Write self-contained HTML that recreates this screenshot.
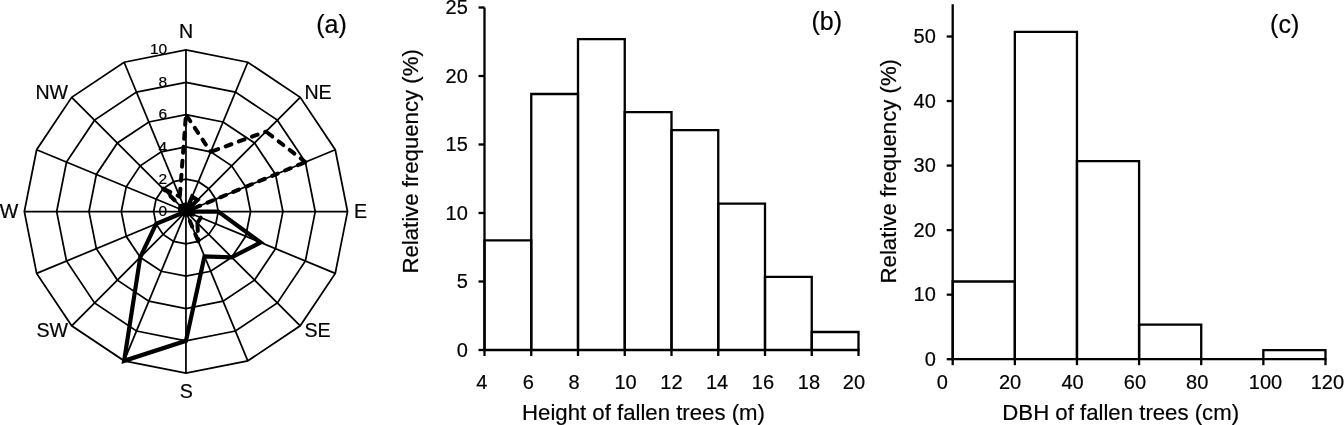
<!DOCTYPE html>
<html><head><meta charset="utf-8"><title>Fallen trees figure</title>
<style>
html,body{margin:0;padding:0;background:#fff;}
body{width:1344px;height:425px;overflow:hidden;}
svg{display:block;}
text{font-family:"Liberation Sans", Arial, sans-serif;fill:#000;stroke:#000;stroke-width:0.2px;}
line,path{stroke:#000;}
</style></head><body>
<svg width="1344" height="425" viewBox="0 0 1344 425">
<rect width="1344" height="425" fill="#fff"/>
<polygon points="185.95,179.23 198.32,181.69 208.80,188.70 215.81,199.18 218.27,211.55 215.81,223.92 208.80,234.40 198.32,241.41 185.95,243.87 173.58,241.41 163.10,234.40 156.09,223.92 153.63,211.55 156.09,199.18 163.10,188.70 173.58,181.69" fill="none" stroke="#000" stroke-width="1.75"/>
<polygon points="185.95,146.91 210.69,151.83 231.66,165.84 245.67,186.81 250.59,211.55 245.67,236.29 231.66,257.26 210.69,271.27 185.95,276.19 161.21,271.27 140.24,257.26 126.23,236.29 121.31,211.55 126.23,186.81 140.24,165.84 161.21,151.83" fill="none" stroke="#000" stroke-width="1.75"/>
<polygon points="185.95,114.59 223.05,121.97 254.51,142.99 275.53,174.45 282.91,211.55 275.53,248.65 254.51,280.11 223.05,301.13 185.95,308.51 148.85,301.13 117.39,280.11 96.37,248.65 88.99,211.55 96.37,174.45 117.39,142.99 148.85,121.97" fill="none" stroke="#000" stroke-width="1.75"/>
<polygon points="185.95,82.27 235.42,92.11 277.36,120.14 305.39,162.08 315.23,211.55 305.39,261.02 277.36,302.96 235.42,330.99 185.95,340.83 136.48,330.99 94.54,302.96 66.51,261.02 56.67,211.55 66.51,162.08 94.54,120.14 136.48,92.11" fill="none" stroke="#000" stroke-width="1.75"/>
<polygon points="185.95,49.95 247.79,62.25 300.22,97.28 335.25,149.71 347.55,211.55 335.25,273.39 300.22,325.82 247.79,360.85 185.95,373.15 124.11,360.85 71.68,325.82 36.65,273.39 24.35,211.55 36.65,149.71 71.68,97.28 124.11,62.25" fill="none" stroke="#000" stroke-width="1.75"/>
<line x1="185.95" y1="211.55" x2="185.95" y2="49.95" stroke-width="1.75"/>
<line x1="185.95" y1="211.55" x2="247.79" y2="62.25" stroke-width="1.75"/>
<line x1="185.95" y1="211.55" x2="300.22" y2="97.28" stroke-width="1.75"/>
<line x1="185.95" y1="211.55" x2="335.25" y2="149.71" stroke-width="1.75"/>
<line x1="185.95" y1="211.55" x2="347.55" y2="211.55" stroke-width="1.75"/>
<line x1="185.95" y1="211.55" x2="335.25" y2="273.39" stroke-width="1.75"/>
<line x1="185.95" y1="211.55" x2="300.22" y2="325.82" stroke-width="1.75"/>
<line x1="185.95" y1="211.55" x2="247.79" y2="360.85" stroke-width="1.75"/>
<line x1="185.95" y1="211.55" x2="185.95" y2="373.15" stroke-width="1.75"/>
<line x1="185.95" y1="211.55" x2="124.11" y2="360.85" stroke-width="1.75"/>
<line x1="185.95" y1="211.55" x2="71.68" y2="325.82" stroke-width="1.75"/>
<line x1="185.95" y1="211.55" x2="36.65" y2="273.39" stroke-width="1.75"/>
<line x1="185.95" y1="211.55" x2="24.35" y2="211.55" stroke-width="1.75"/>
<line x1="185.95" y1="211.55" x2="36.65" y2="149.71" stroke-width="1.75"/>
<line x1="185.95" y1="211.55" x2="71.68" y2="97.28" stroke-width="1.75"/>
<line x1="185.95" y1="211.55" x2="124.11" y2="62.25" stroke-width="1.75"/>
<polygon points="185.95,211.55 192.13,196.62 197.38,200.12 185.95,211.55 218.27,211.55 260.60,242.47 231.66,257.26 204.50,256.34 185.95,340.83 124.11,360.85 140.24,257.26 156.09,223.92 185.95,211.55 185.95,211.55 185.95,211.55 185.95,211.55" fill="none" stroke="#000" stroke-width="4.2" stroke-linejoin="miter"/>
<path d="M185.95,114.59L210.69,151.83" fill="none" stroke="#000" stroke-width="4.0" stroke-dasharray="6.00 8.00" stroke-dashoffset="-2.00" stroke-linecap="round"/>
<path d="M210.69,151.83L265.94,131.56" fill="none" stroke="#000" stroke-width="4.0" stroke-dasharray="6.00 8.00" stroke-dashoffset="-2.00" stroke-linecap="round"/>
<path d="M265.94,131.56L305.39,162.08" fill="none" stroke="#000" stroke-width="4.0" stroke-dasharray="6.00 8.00" stroke-dashoffset="-2.00" stroke-linecap="round"/>
<path d="M305.39,162.08L185.95,211.55" fill="none" stroke="#000" stroke-width="4.0" stroke-dasharray="6.00 8.00" stroke-dashoffset="-2.00" stroke-linecap="round"/>
<path d="M185.95,211.55L200.88,217.73" fill="none" stroke="#000" stroke-width="4.0" stroke-dasharray="6.00 8.00" stroke-dashoffset="-2.00" stroke-linecap="round"/>
<path d="M200.88,217.73L197.38,222.98" fill="none" stroke="#000" stroke-width="4.0" stroke-dasharray="6.00 8.00" stroke-dashoffset="-2.00" stroke-linecap="round"/>
<path d="M197.38,222.98L198.32,241.41" fill="none" stroke="#000" stroke-width="4.0" stroke-dasharray="6.00 8.00" stroke-dashoffset="-2.00" stroke-linecap="round"/>
<path d="M198.32,241.41L185.95,211.55" fill="none" stroke="#000" stroke-width="4.0" stroke-dasharray="6.00 8.00" stroke-dashoffset="-2.00" stroke-linecap="round"/>
<path d="M185.95,211.55L163.10,188.70" fill="none" stroke="#000" stroke-width="4.0" stroke-dasharray="6.00 8.00" stroke-dashoffset="-2.00" stroke-linecap="round"/>
<path d="M163.10,188.70L179.77,196.62" fill="none" stroke="#000" stroke-width="4.0" stroke-dasharray="6.00 8.00" stroke-dashoffset="-2.00" stroke-linecap="round"/>
<path d="M179.77,196.62L185.95,114.59" fill="none" stroke="#000" stroke-width="4.0" stroke-dasharray="6.00 8.00" stroke-dashoffset="-2.00" stroke-linecap="round"/>
<ellipse cx="185.9" cy="209.5" rx="8" ry="7" fill="#000"/>
<text x="167.20" y="216.30" font-size="15.5" text-anchor="end">0</text>
<text x="167.20" y="183.90" font-size="15.5" text-anchor="end">2</text>
<text x="167.20" y="151.50" font-size="15.5" text-anchor="end">4</text>
<text x="167.20" y="119.10" font-size="15.5" text-anchor="end">6</text>
<text x="167.20" y="86.70" font-size="15.5" text-anchor="end">8</text>
<text x="167.20" y="54.30" font-size="15.5" text-anchor="end">10</text>
<text x="186.00" y="38.40" font-size="19.6" text-anchor="middle">N</text>
<text x="318.00" y="98.70" font-size="19.6" text-anchor="middle">NE</text>
<text x="360.50" y="218.00" font-size="19.6" text-anchor="middle">E</text>
<text x="317.50" y="336.80" font-size="19.6" text-anchor="middle">SE</text>
<text x="186.30" y="397.60" font-size="19.6" text-anchor="middle">S</text>
<text x="52.20" y="336.80" font-size="19.6" text-anchor="middle">SW</text>
<text x="9.00" y="218.00" font-size="19.6" text-anchor="middle">W</text>
<text x="51.80" y="98.70" font-size="19.6" text-anchor="middle">NW</text>
<text x="331.50" y="33.20" font-size="25" text-anchor="middle">(a)</text>
<path d="M484.50,350.0 V240.4 H531.25 V350.0" fill="none" stroke-width="2.3"/>
<path d="M531.25,350.0 V94 H578.00 V350.0" fill="none" stroke-width="2.3"/>
<path d="M578.00,350.0 V39.2 H624.75 V350.0" fill="none" stroke-width="2.3"/>
<path d="M624.75,350.0 V112.1 H671.50 V350.0" fill="none" stroke-width="2.3"/>
<path d="M671.50,350.0 V130.2 H718.25 V350.0" fill="none" stroke-width="2.3"/>
<path d="M718.25,350.0 V203.6 H765.00 V350.0" fill="none" stroke-width="2.3"/>
<path d="M765.00,350.0 V276.8 H811.75 V350.0" fill="none" stroke-width="2.3"/>
<path d="M811.75,350.0 V332 H858.50 V350.0" fill="none" stroke-width="2.3"/>
<line x1="484.50" y1="7.50" x2="484.50" y2="351.00" stroke-width="2.3"/>
<line x1="483.50" y1="350.00" x2="859.50" y2="350.00" stroke-width="2.3"/>
<line x1="478.50" y1="350.00" x2="484.50" y2="350.00" stroke-width="2.3"/>
<text x="467.80" y="356.50" font-size="20" text-anchor="end">0</text>
<line x1="478.50" y1="281.50" x2="484.50" y2="281.50" stroke-width="2.3"/>
<text x="467.80" y="288.00" font-size="20" text-anchor="end">5</text>
<line x1="478.50" y1="213.00" x2="484.50" y2="213.00" stroke-width="2.3"/>
<text x="467.80" y="219.50" font-size="20" text-anchor="end">10</text>
<line x1="478.50" y1="144.50" x2="484.50" y2="144.50" stroke-width="2.3"/>
<text x="467.80" y="151.00" font-size="20" text-anchor="end">15</text>
<line x1="478.50" y1="76.00" x2="484.50" y2="76.00" stroke-width="2.3"/>
<text x="467.80" y="82.50" font-size="20" text-anchor="end">20</text>
<line x1="478.50" y1="7.50" x2="484.50" y2="7.50" stroke-width="2.3"/>
<text x="467.80" y="14.00" font-size="20" text-anchor="end">25</text>
<line x1="484.50" y1="350.00" x2="484.50" y2="356.00" stroke-width="2.3"/>
<text x="481.90" y="389.10" font-size="20" text-anchor="middle">4</text>
<line x1="531.25" y1="350.00" x2="531.25" y2="356.00" stroke-width="2.3"/>
<text x="528.20" y="389.10" font-size="20" text-anchor="middle">6</text>
<line x1="578.00" y1="350.00" x2="578.00" y2="356.00" stroke-width="2.3"/>
<text x="574.00" y="389.10" font-size="20" text-anchor="middle">8</text>
<line x1="624.75" y1="350.00" x2="624.75" y2="356.00" stroke-width="2.3"/>
<text x="625.50" y="389.10" font-size="20" text-anchor="middle">10</text>
<line x1="671.50" y1="350.00" x2="671.50" y2="356.00" stroke-width="2.3"/>
<text x="671.40" y="389.10" font-size="20" text-anchor="middle">12</text>
<line x1="718.25" y1="350.00" x2="718.25" y2="356.00" stroke-width="2.3"/>
<text x="717.00" y="389.10" font-size="20" text-anchor="middle">14</text>
<line x1="765.00" y1="350.00" x2="765.00" y2="356.00" stroke-width="2.3"/>
<text x="762.90" y="389.10" font-size="20" text-anchor="middle">16</text>
<line x1="811.75" y1="350.00" x2="811.75" y2="356.00" stroke-width="2.3"/>
<text x="808.90" y="389.10" font-size="20" text-anchor="middle">18</text>
<line x1="858.50" y1="350.00" x2="858.50" y2="356.00" stroke-width="2.3"/>
<text x="853.90" y="389.10" font-size="20" text-anchor="middle">20</text>
<text x="643.50" y="419.80" font-size="22.2" text-anchor="middle">Height of fallen trees (m)</text>
<text x="0.00" y="0.00" font-size="22.2" text-anchor="middle" transform="translate(418.1,161.4) rotate(-90)">Relative frequency (%)</text>
<text x="826.80" y="29.60" font-size="25" text-anchor="middle">(b)</text>
<path d="M952.70,359.2 V281.5 H1014.83 V359.2" fill="none" stroke-width="2.3"/>
<path d="M1014.83,359.2 V31.8 H1076.96 V359.2" fill="none" stroke-width="2.3"/>
<path d="M1076.96,359.2 V161.1 H1139.09 V359.2" fill="none" stroke-width="2.3"/>
<path d="M1139.09,359.2 V324.7 H1201.22 V359.2" fill="none" stroke-width="2.3"/>
<path d="M1263.35,359.2 V350.2 H1325.48 V359.2" fill="none" stroke-width="2.3"/>
<line x1="952.70" y1="4.20" x2="952.70" y2="360.20" stroke-width="2.3"/>
<line x1="951.70" y1="359.20" x2="1326.48" y2="359.20" stroke-width="2.3"/>
<line x1="946.70" y1="359.20" x2="952.70" y2="359.20" stroke-width="2.3"/>
<text x="935.80" y="365.70" font-size="20" text-anchor="end">0</text>
<line x1="946.70" y1="294.66" x2="952.70" y2="294.66" stroke-width="2.3"/>
<text x="935.80" y="301.16" font-size="20" text-anchor="end">10</text>
<line x1="946.70" y1="230.12" x2="952.70" y2="230.12" stroke-width="2.3"/>
<text x="935.80" y="236.62" font-size="20" text-anchor="end">20</text>
<line x1="946.70" y1="165.58" x2="952.70" y2="165.58" stroke-width="2.3"/>
<text x="935.80" y="172.08" font-size="20" text-anchor="end">30</text>
<line x1="946.70" y1="101.04" x2="952.70" y2="101.04" stroke-width="2.3"/>
<text x="935.80" y="107.54" font-size="20" text-anchor="end">40</text>
<line x1="946.70" y1="36.50" x2="952.70" y2="36.50" stroke-width="2.3"/>
<text x="935.80" y="43.00" font-size="20" text-anchor="end">50</text>
<line x1="952.70" y1="359.20" x2="952.70" y2="365.20" stroke-width="2.3"/>
<text x="942.40" y="389.00" font-size="20" text-anchor="middle">0</text>
<line x1="1014.83" y1="359.20" x2="1014.83" y2="365.20" stroke-width="2.3"/>
<text x="1010.00" y="389.00" font-size="20" text-anchor="middle">20</text>
<line x1="1076.96" y1="359.20" x2="1076.96" y2="365.20" stroke-width="2.3"/>
<text x="1072.50" y="389.00" font-size="20" text-anchor="middle">40</text>
<line x1="1139.09" y1="359.20" x2="1139.09" y2="365.20" stroke-width="2.3"/>
<text x="1134.90" y="389.00" font-size="20" text-anchor="middle">60</text>
<line x1="1201.22" y1="359.20" x2="1201.22" y2="365.20" stroke-width="2.3"/>
<text x="1197.20" y="389.00" font-size="20" text-anchor="middle">80</text>
<line x1="1263.35" y1="359.20" x2="1263.35" y2="365.20" stroke-width="2.3"/>
<text x="1265.50" y="389.00" font-size="20" text-anchor="middle">100</text>
<line x1="1325.48" y1="359.20" x2="1325.48" y2="365.20" stroke-width="2.3"/>
<text x="1327.40" y="389.00" font-size="20" text-anchor="middle">120</text>
<text x="1120.70" y="420.20" font-size="22.2" text-anchor="middle">DBH of fallen trees (cm)</text>
<text x="0.00" y="0.00" font-size="22.2" text-anchor="middle" transform="translate(896.4,171.2) rotate(-90)">Relative frequency (%)</text>
<text x="1284.70" y="33.00" font-size="25" text-anchor="middle">(c)</text>
</svg>
</body></html>
